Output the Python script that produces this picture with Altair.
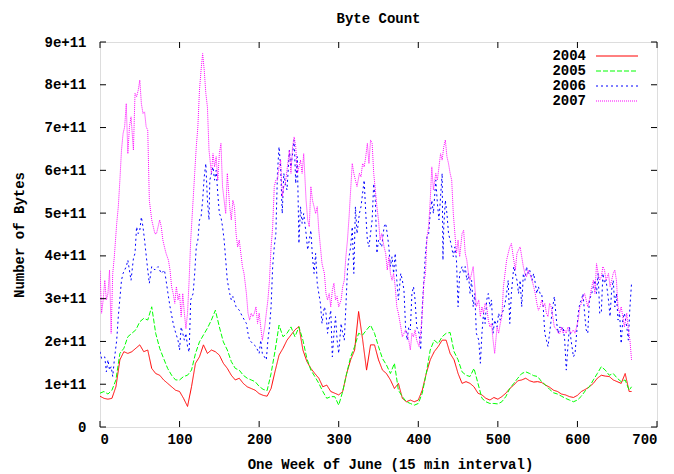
import altair as alt
import pandas as pd

# sample index (15-minute intervals) for the smoother 2004/2005 series: every 5th sample
x_index = list(range(0, 666, 5)) + [668]

# Byte counts in units of 1e11 bytes
bytes_2004 = [
    0.72, 0.67, 0.65, 0.67, 0.94, 1.57, 1.76, 1.72, 1.76, 1.84, 1.92, 1.76, 1.80, 1.37, 1.25, 1.21, 1.10, 1.02, 0.94, 0.86, 0.83, 0.67, 0.48,
    0.94, 1.49, 1.64, 1.92, 1.72, 1.80, 1.76, 1.68, 1.49, 1.37, 1.21, 1.10, 1.14, 1.02, 0.94, 0.90, 0.86, 0.78, 0.74, 0.72, 0.90, 1.30,
    1.68, 1.84, 2.03, 2.15, 2.27, 2.35, 1.80, 1.53, 1.37, 1.25, 1.14, 0.94, 0.98, 0.83, 0.79, 0.75, 0.83, 1.25, 1.57, 1.80, 2.70, 2.05,
    1.33, 1.92, 1.92, 1.57, 1.33, 1.25, 1.10, 0.90, 1.02, 0.67, 0.59, 0.63, 0.59, 0.63, 0.86, 1.25, 1.57, 1.76, 1.88, 2.03, 2.03, 1.72,
    1.57, 1.25, 1.02, 1.06, 1.02, 0.94, 0.79, 0.75, 0.67, 0.63, 0.69, 0.65, 0.71, 0.79, 0.90, 0.98, 1.08, 1.10, 1.14, 1.08, 1.05,
    1.06, 1.04, 0.98, 0.93, 0.86, 0.83, 0.77, 0.75, 0.71, 0.69, 0.74, 0.83, 0.88, 0.94, 1.02, 1.14, 1.21, 1.19, 1.18, 1.10, 1.06, 1.02, 1.25, 0.83, 0.83,
]
bytes_2005 = [
    0.79, 0.83, 0.77, 0.86, 1.10, 1.72, 1.84, 2.11, 2.19, 2.27, 2.46, 2.54, 2.50, 2.81, 2.19, 1.84, 1.60, 1.37, 1.21, 1.10, 1.10, 1.18, 1.21,
    1.33, 1.72, 1.99, 2.15, 2.31, 2.50, 2.73, 2.34, 1.99, 1.80, 1.53, 1.37, 1.33, 1.21, 1.14, 1.10, 1.06, 0.95, 0.88, 0.85, 1.25, 1.78,
    2.38, 2.11, 2.19, 2.34, 2.11, 2.34, 2.03, 1.60, 1.33, 1.18, 1.02, 0.83, 0.67, 0.71, 0.71, 0.51, 0.83, 1.25, 1.64, 1.88, 2.19, 2.15,
    2.27, 2.38, 2.19, 1.88, 1.60, 1.45, 1.25, 1.49, 0.86, 0.71, 0.59, 0.55, 0.51, 0.55, 0.79, 1.25, 1.80, 2.03, 1.95, 2.11, 2.19, 2.21,
    1.76, 1.57, 1.29, 1.21, 1.18, 1.37, 1.02, 0.67, 0.59, 0.55, 0.55, 0.54, 0.59, 0.71, 0.90, 1.02, 1.14, 1.25, 1.29, 1.25, 1.20,
    1.18, 1.06, 0.98, 0.88, 0.80, 0.77, 0.72, 0.67, 0.63, 0.59, 0.63, 0.72, 0.85, 0.94, 1.10, 1.25, 1.41, 1.33, 1.21, 1.25, 1.14, 1.06, 1.10, 0.86, 0.94,
]

# 2006 and 2007 are much more jagged: (sample index, 1e11 bytes) read at a finer step
points_2006 = [
    (0, 1.76), (2, 1.60), (6, 1.64), (8, 1.29), (10, 1.57), (12, 1.33), (14, 1.41), (16, 1.18), (18, 1.57), (21, 2.03),
    (23, 2.58), (27, 3.43), (29, 3.59), (33, 3.75), (35, 3.90), (39, 3.43), (42, 3.94), (44, 4.06), (46, 4.68), (48, 4.52),
    (50, 4.60), (52, 4.91), (54, 4.68), (56, 4.37), (60, 3.67), (62, 3.36), (65, 3.75), (69, 3.67), (73, 3.75), (77, 3.59),
    (81, 3.67), (83, 3.43), (86, 3.05), (88, 2.81), (92, 2.42), (94, 2.27), (98, 2.03), (100, 1.80), (102, 2.34), (104, 2.19),
    (106, 2.03), (108, 2.19), (110, 1.88), (112, 1.75), (114, 2.97), (117, 3.12), (119, 3.59), (121, 4.21), (123, 4.37), (125, 4.84),
    (127, 4.91), (129, 5.30), (131, 5.85), (133, 6.16), (135, 5.30), (137, 4.84), (138, 5.77), (142, 6.08), (144, 5.77), (146, 6.00),
    (148, 5.46), (150, 4.99), (152, 4.91), (154, 4.68), (156, 4.37), (158, 3.90), (160, 3.43), (163, 3.12), (165, 2.97), (167, 3.05),
    (171, 2.81), (175, 2.73), (179, 2.58), (184, 2.42), (186, 2.19), (188, 2.03), (192, 1.95), (196, 1.88), (200, 1.72), (202, 2.03),
    (204, 1.72), (209, 1.57), (211, 2.03), (213, 2.34), (215, 2.81), (217, 3.75), (219, 4.21), (221, 4.52), (223, 5.93), (225, 6.55),
    (227, 6.08), (229, 4.99), (231, 5.93), (233, 5.69), (235, 5.54), (238, 6.47), (240, 6.08), (242, 6.39), (244, 6.71), (246, 5.69),
    (248, 6.32), (250, 4.29), (252, 5.15), (254, 4.76), (256, 4.99), (259, 4.52), (261, 4.14), (263, 4.37), (265, 4.60), (267, 3.98),
    (269, 3.59), (271, 4.06), (273, 3.36), (275, 3.12), (277, 2.89), (279, 2.42), (282, 2.81), (284, 2.66), (286, 2.19), (288, 2.50),
    (290, 2.73), (292, 1.64), (294, 2.19), (296, 2.58), (298, 2.03), (300, 1.72), (303, 2.42), (305, 2.19), (307, 2.03), (309, 2.81),
    (311, 3.67), (313, 3.98), (315, 4.21), (317, 4.68), (319, 3.59), (321, 5.15), (323, 4.52), (326, 4.99), (328, 5.15), (330, 5.46),
    (332, 5.77), (334, 4.99), (336, 4.37), (338, 4.21), (340, 4.52), (342, 4.84), (344, 5.69), (346, 5.30), (348, 4.06), (350, 4.37),
    (352, 4.29), (354, 4.21), (357, 4.68), (359, 4.76), (361, 4.52), (363, 4.21), (365, 3.75), (367, 3.98), (369, 3.59), (371, 4.06),
    (373, 3.43), (375, 2.97), (378, 3.59), (380, 3.43), (382, 3.20), (384, 2.34), (386, 2.03), (388, 2.34), (390, 2.27), (392, 3.12),
    (394, 3.28), (396, 2.97), (398, 2.34), (401, 2.19), (403, 1.80), (405, 2.81), (407, 3.43), (409, 4.06), (411, 4.45), (413, 4.52),
    (415, 4.99), (417, 5.30), (419, 4.99), (422, 5.77), (424, 5.23), (426, 4.84), (428, 5.38), (430, 5.93), (431, 3.90), (432, 4.68),
    (434, 5.30), (436, 4.99), (438, 4.52), (440, 4.37), (442, 4.21), (444, 3.98), (446, 4.21), (448, 3.90), (450, 2.81), (452, 3.59),
    (455, 3.75), (457, 3.59), (459, 3.75), (461, 3.43), (463, 3.59), (465, 3.12), (467, 3.43), (469, 2.81), (471, 3.12), (473, 2.19),
    (476, 2.03), (478, 1.49), (480, 2.19), (482, 2.66), (484, 2.42), (486, 2.97), (488, 3.12), (490, 2.81), (492, 2.97), (494, 2.19),
    (496, 2.50), (499, 2.34), (501, 2.66), (503, 2.50), (505, 2.66), (507, 2.73), (509, 2.89), (511, 3.12), (513, 3.43), (515, 2.42),
    (517, 3.12), (520, 3.75), (522, 3.59), (524, 3.43), (526, 3.12), (528, 3.43), (530, 2.81), (532, 3.59), (534, 3.43), (536, 3.75),
    (538, 3.59), (540, 3.67), (543, 3.43), (545, 3.59), (547, 3.36), (549, 3.12), (551, 3.28), (553, 3.12), (555, 3.12), (557, 2.81),
    (559, 2.19), (561, 2.03), (563, 1.88), (565, 2.19), (567, 2.50), (569, 2.81), (571, 3.05), (574, 2.42), (576, 2.19), (578, 2.34),
    (580, 2.27), (582, 2.34), (584, 2.03), (586, 1.33), (588, 1.88), (590, 2.34), (592, 2.03), (595, 1.64), (597, 1.72), (599, 2.19),
    (601, 2.66), (603, 2.89), (605, 2.97), (607, 3.12), (609, 2.66), (611, 2.27), (613, 2.19), (615, 2.97), (618, 3.12), (620, 3.28),
    (622, 3.43), (624, 3.12), (626, 3.59), (628, 2.66), (630, 2.66), (632, 3.59), (634, 3.36), (636, 3.43), (639, 2.97), (641, 2.58),
    (643, 3.20), (645, 3.43), (647, 2.81), (649, 3.12), (651, 2.50), (653, 2.66), (655, 1.95), (657, 2.50), (659, 2.66), (662, 2.34),
    (664, 2.03), (666, 2.81), (668, 3.36),
]
points_2007 = [
    (0, 3.65), (2, 2.66), (4, 2.97), (6, 3.43), (8, 2.97), (10, 3.12), (12, 3.67), (14, 2.19), (16, 3.59), (18, 3.98),
    (21, 4.76), (23, 5.15), (25, 5.77), (27, 6.47), (29, 6.86), (31, 7.02), (33, 7.56), (35, 6.39), (37, 7.02), (39, 7.25),
    (42, 6.47), (44, 7.80), (46, 7.72), (48, 7.87), (50, 8.11), (52, 7.56), (54, 7.33), (56, 7.37), (58, 7.02), (60, 6.94),
    (62, 5.30), (65, 4.84), (67, 4.68), (69, 4.52), (71, 4.52), (73, 4.68), (75, 4.84), (77, 4.68), (79, 4.37), (81, 4.21),
    (83, 4.06), (86, 3.90), (88, 3.67), (90, 3.28), (92, 3.12), (94, 2.89), (96, 3.28), (98, 2.97), (100, 3.12), (102, 2.58),
    (104, 3.12), (106, 2.66), (108, 2.30), (110, 2.66), (112, 3.43), (114, 4.37), (117, 5.30), (119, 5.93), (121, 6.55), (123, 7.02),
    (125, 7.87), (127, 8.34), (129, 8.73), (131, 8.34), (133, 7.80), (135, 7.48), (137, 6.47), (140, 5.93), (142, 6.39), (144, 6.08),
    (146, 6.32), (148, 5.77), (150, 6.39), (152, 6.63), (154, 5.62), (156, 5.30), (158, 4.99), (160, 5.93), (163, 5.15), (165, 4.84),
    (167, 5.30), (169, 5.15), (171, 4.52), (173, 4.21), (175, 4.37), (177, 4.06), (179, 3.75), (181, 3.59), (184, 3.12), (186, 2.66),
    (188, 2.50), (190, 2.66), (192, 2.58), (194, 2.66), (196, 2.81), (198, 2.42), (200, 2.66), (202, 2.34), (204, 2.03), (207, 2.34),
    (209, 2.66), (211, 2.97), (213, 3.43), (215, 4.21), (217, 4.68), (219, 5.62), (221, 5.77), (223, 5.77), (225, 6.08), (227, 6.24),
    (229, 5.38), (231, 5.62), (233, 5.69), (235, 6.00), (238, 6.47), (240, 5.93), (242, 6.55), (244, 6.78), (246, 6.55), (248, 5.93),
    (250, 6.08), (252, 6.24), (254, 5.93), (256, 6.39), (259, 5.30), (261, 4.84), (263, 4.68), (265, 5.62), (267, 5.30), (269, 5.15),
    (271, 4.99), (273, 5.15), (275, 4.60), (277, 4.21), (279, 3.82), (282, 3.59), (284, 3.12), (286, 2.97), (288, 3.12), (290, 2.81),
    (292, 3.20), (294, 3.36), (296, 2.97), (298, 3.05), (300, 2.81), (303, 2.97), (305, 3.28), (307, 3.43), (309, 3.98), (311, 4.37),
    (313, 4.91), (315, 5.54), (317, 6.16), (319, 5.93), (321, 5.77), (323, 5.62), (326, 5.93), (328, 5.85), (330, 6.16), (332, 6.08),
    (334, 6.32), (336, 6.63), (338, 6.16), (340, 6.71), (342, 6.63), (344, 5.93), (346, 5.54), (348, 5.15), (350, 4.84), (352, 4.37),
    (354, 4.52), (357, 4.21), (359, 4.06), (361, 3.67), (363, 3.98), (365, 3.59), (367, 3.43), (369, 3.59), (371, 3.28), (373, 2.81),
    (375, 2.66), (378, 2.34), (380, 2.11), (382, 2.19), (384, 2.27), (386, 2.19), (388, 2.03), (390, 1.80), (392, 2.19), (394, 2.11),
    (396, 2.27), (398, 2.03), (401, 1.88), (403, 2.19), (405, 2.66), (407, 3.36), (409, 3.59), (411, 4.45), (413, 4.68), (415, 5.30),
    (417, 6.08), (419, 5.54), (422, 5.93), (424, 5.77), (426, 6.08), (428, 6.39), (430, 6.24), (432, 6.55), (434, 6.71), (436, 6.32),
    (438, 6.16), (440, 5.93), (442, 5.77), (444, 4.99), (446, 4.52), (448, 4.06), (450, 4.37), (452, 3.98), (455, 4.52), (457, 4.60),
    (459, 4.06), (461, 3.90), (463, 3.59), (465, 3.43), (467, 3.59), (469, 3.75), (471, 3.28), (473, 2.81), (476, 2.97), (478, 2.58),
    (480, 2.81), (482, 2.66), (484, 2.89), (486, 2.81), (488, 2.50), (490, 2.34), (492, 2.42), (494, 2.03), (496, 1.72), (499, 2.34),
    (501, 2.19), (503, 2.42), (505, 2.58), (507, 3.28), (509, 3.59), (511, 3.90), (513, 4.06), (515, 4.21), (517, 4.29), (520, 3.90),
    (522, 3.67), (524, 4.06), (526, 4.14), (528, 4.21), (530, 3.98), (532, 3.75), (534, 3.59), (536, 3.51), (538, 3.67), (540, 3.59),
    (543, 3.43), (545, 3.28), (547, 3.12), (549, 2.89), (551, 2.73), (553, 2.81), (555, 2.97), (557, 2.81), (559, 2.89), (561, 2.66),
    (563, 2.58), (565, 2.89), (567, 2.81), (569, 2.58), (571, 2.34), (574, 2.27), (576, 2.19), (578, 2.19), (580, 2.34), (582, 2.19),
    (584, 2.27), (586, 2.19), (588, 2.34), (590, 2.27), (592, 2.19), (595, 2.27), (597, 2.19), (599, 2.34), (601, 2.50), (603, 2.81),
    (605, 2.89), (607, 3.05), (609, 3.12), (611, 2.97), (613, 2.81), (615, 2.97), (618, 3.28), (620, 3.43), (622, 3.12), (624, 3.82),
    (626, 3.59), (628, 3.43), (630, 3.51), (632, 3.75), (634, 3.67), (636, 3.43), (639, 3.59), (641, 3.28), (643, 3.43), (645, 3.59),
    (647, 3.67), (649, 3.43), (651, 2.81), (653, 2.66), (655, 2.81), (657, 2.58), (659, 2.34), (662, 2.66), (664, 2.27), (666, 2.03),
    (668, 1.57),
]

years = ["2004", "2005", "2006", "2007"]
colors = ["#ff0000", "#00ff00", "#0000ff", "#ff00ff"]
dashes = [[1, 0], [5, 2], [2, 3], [1, 1]]

x_ticks = [0, 100, 200, 300, 400, 500, 600, 700]
y_ticks = [0, 1, 2, 3, 4, 5, 6, 7, 8, 9]

W, H = 557, 385
FONT = "Liberation Mono"

rows = []
for yr, vals in (("2004", bytes_2004), ("2005", bytes_2005)):
    for xi, v in zip(x_index, vals):
        rows.append({"x": xi, "bytes": v * 1e11, "year": yr})
for yr, pts in (("2006", points_2006), ("2007", points_2007)):
    for xi, v in pts:
        rows.append({"x": xi, "bytes": v * 1e11, "year": yr})
df = pd.DataFrame(rows)

xscale = alt.Scale(domain=[0, 700], nice=False, zero=False)
yscale = alt.Scale(domain=[0, 9e11], nice=False)

x_axis = alt.Axis(values=x_ticks, ticks=False, domain=False, grid=False,
                  labelFont=FONT, labelFontWeight="bold", labelFontSize=14, labelPadding=5,
                  labelColor="black", title="One Week of June (15 min interval)",
                  titleFont=FONT, titleFontWeight="bold", titleFontSize=14, titlePadding=11,
                  titleX=290, titleColor="black")
y_axis = alt.Axis(values=[v * 1e11 for v in y_ticks], ticks=False, domain=False, grid=False,
                  labelExpr="datum.value == 0 ? '0' : format(datum.value / 1e11, 'd') + 'e+11'",
                  labelFont=FONT, labelFontWeight="bold", labelFontSize=14, labelPadding=14,
                  labelColor="black", title="Number of Bytes",
                  titleFont=FONT, titleFontWeight="bold", titleFontSize=14, titlePadding=17,
                  titleColor="black")


def X(field):
    return alt.X(field, scale=xscale, axis=x_axis)


def Y(field):
    return alt.Y(field, scale=yscale, axis=y_axis)


base = alt.Chart(df)
layers = []
for yr, col, dsh in zip(years, colors, dashes):
    layers.append(
        base.transform_filter(alt.datum.year == yr)
        .mark_line(color=col, strokeWidth=1, strokeDash=dsh, clip=True)
        .encode(x=X("x:Q"), y=Y("bytes:Q"))
    )

# inward ticks on all four sides
xt = pd.DataFrame({"x": x_ticks})
yt = pd.DataFrame({"bytes": [v * 1e11 for v in y_ticks]})
tick_len = 6
tick_layers = [
    alt.Chart(xt).mark_rule(color="black", strokeWidth=1).encode(
        x=X("x:Q"), y=alt.value(H), y2=alt.value(H - tick_len)),
    alt.Chart(xt).mark_rule(color="black", strokeWidth=1).encode(
        x=X("x:Q"), y=alt.value(0), y2=alt.value(tick_len)),
    alt.Chart(yt).mark_rule(color="black", strokeWidth=1).encode(
        y=Y("bytes:Q"), x=alt.value(0), x2=alt.value(tick_len)),
    alt.Chart(yt).mark_rule(color="black", strokeWidth=1).encode(
        y=Y("bytes:Q"), x=alt.value(W), x2=alt.value(W - tick_len)),
]

# legend (gnuplot style: label left, sample right)
leg_layers = []
leg_y0, leg_dy = 14, 15
for i, (yr, col, dsh) in enumerate(zip(years, colors, dashes)):
    ly = leg_y0 + i * leg_dy
    ldf = pd.DataFrame({"year": [yr]})
    leg_layers.append(
        alt.Chart(ldf).mark_text(align="right", baseline="middle", font=FONT,
                                 fontWeight="bold", fontSize=14, color="black")
        .encode(text="year:N", x=alt.value(486), y=alt.value(ly)))
    leg_layers.append(
        alt.Chart(ldf).mark_rule(color=col, strokeWidth=1, strokeDash=dsh)
        .encode(x=alt.value(496), x2=alt.value(538), y=alt.value(ly)))

chart = alt.layer(*layers, *tick_layers, *leg_layers).properties(
    width=W, height=H,
    title=alt.TitleParams("Byte Count", font=FONT, fontWeight="bold", fontSize=14,
                          anchor="middle", offset=9, color="black"),
    autosize=alt.AutoSizeParams(type="none"),
    padding={"left": 92, "top": 34, "right": 9, "bottom": 46},
).configure_view(stroke="black", strokeWidth=1).configure(background="white")

chart.save("out.html", embed_options={"renderer": "svg", "actions": False})
